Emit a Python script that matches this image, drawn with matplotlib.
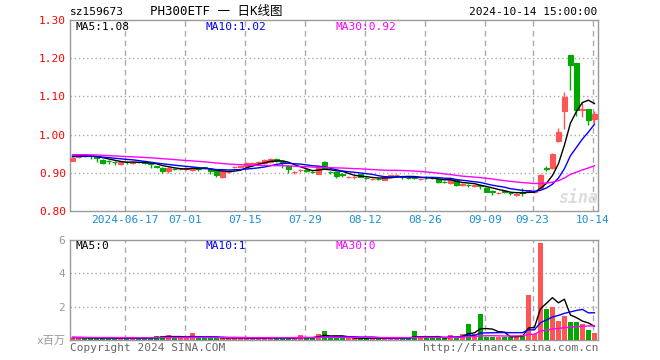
import numpy as np
import pandas as pd
import matplotlib
matplotlib.use('Agg')
import matplotlib.pyplot as plt

# 日K数据 2024-06-03 ~ 2024-10-14 (价格, 成交量单位: 百万)
open_ = [0.932, 0.942, 0.946, 0.945, 0.942, 0.934, 0.931, 0.929, 0.922, 0.928,
         0.926, 0.928, 0.928, 0.925, 0.917, 0.913, 0.904, 0.911, 0.910, 0.910,
         0.907, 0.913, 0.914, 0.911, 0.910, 0.889, 0.902, 0.915, 0.916, 0.917,
         0.921, 0.926, 0.925, 0.928, 0.937, 0.930, 0.917, 0.902, 0.907, 0.907,
         0.903, 0.898, 0.929, 0.903, 0.901, 0.896, 0.889, 0.888, 0.897, 0.887,
         0.883, 0.884, 0.882, 0.889, 0.894, 0.891, 0.887, 0.889, 0.883, 0.889,
         0.887, 0.883, 0.876, 0.872, 0.882, 0.869, 0.869, 0.866, 0.867, 0.861,
         0.852, 0.847, 0.852, 0.847, 0.843, 0.849, 0.850, 0.849, 0.861, 0.913,
         0.912, 0.982, 1.061, 1.208, 1.187, 1.064, 1.067, 1.041]
close = [0.939, 0.947, 0.945, 0.944, 0.938, 0.925, 0.930, 0.928, 0.928, 0.927,
         0.928, 0.927, 0.925, 0.922, 0.916, 0.904, 0.913, 0.910, 0.911, 0.912,
         0.913, 0.909, 0.912, 0.905, 0.894, 0.904, 0.903, 0.916, 0.917, 0.926,
         0.926, 0.927, 0.934, 0.937, 0.931, 0.927, 0.909, 0.903, 0.908, 0.906,
         0.902, 0.917, 0.913, 0.902, 0.892, 0.895, 0.890, 0.889, 0.890, 0.886,
         0.884, 0.883, 0.889, 0.893, 0.895, 0.890, 0.886, 0.887, 0.884, 0.888,
         0.886, 0.875, 0.875, 0.886, 0.867, 0.870, 0.868, 0.867, 0.866, 0.850,
         0.851, 0.848, 0.851, 0.846, 0.844, 0.848, 0.855, 0.853, 0.895, 0.911,
         0.950, 1.008, 1.098, 1.182, 1.064, 1.068, 1.038, 1.055]
high = [0.941, 0.948, 0.948, 0.947, 0.944, 0.936, 0.933, 0.931, 0.930, 0.930,
        0.929, 0.929, 0.929, 0.927, 0.919, 0.915, 0.915, 0.913, 0.913, 0.914,
        0.915, 0.914, 0.916, 0.913, 0.911, 0.906, 0.905, 0.919, 0.919, 0.927,
        0.928, 0.930, 0.936, 0.938, 0.938, 0.932, 0.918, 0.905, 0.910, 0.909,
        0.905, 0.918, 0.930, 0.905, 0.902, 0.899, 0.892, 0.893, 0.898, 0.889,
        0.886, 0.886, 0.890, 0.894, 0.898, 0.892, 0.888, 0.890, 0.886, 0.891,
        0.889, 0.884, 0.878, 0.890, 0.883, 0.872, 0.871, 0.869, 0.869, 0.862,
        0.855, 0.850, 0.853, 0.849, 0.847, 0.859, 0.856, 0.855, 0.896, 0.917,
        0.951, 1.018, 1.112, 1.208, 1.187, 1.083, 1.067, 1.061]
low = [0.930, 0.938, 0.942, 0.935, 0.927, 0.922, 0.922, 0.920, 0.920, 0.922,
       0.924, 0.925, 0.922, 0.913, 0.913, 0.900, 0.900, 0.907, 0.908, 0.908,
       0.905, 0.906, 0.910, 0.896, 0.890, 0.887, 0.900, 0.913, 0.914, 0.915,
       0.919, 0.924, 0.923, 0.926, 0.929, 0.913, 0.900, 0.898, 0.903, 0.902,
       0.899, 0.897, 0.911, 0.898, 0.886, 0.888, 0.887, 0.885, 0.888, 0.883,
       0.881, 0.880, 0.881, 0.888, 0.892, 0.884, 0.883, 0.884, 0.880, 0.885,
       0.883, 0.873, 0.872, 0.871, 0.865, 0.866, 0.864, 0.864, 0.858, 0.849,
       0.843, 0.845, 0.848, 0.843, 0.840, 0.840, 0.849, 0.848, 0.860, 0.905,
       0.910, 0.981, 1.015, 1.118, 1.050, 1.046, 1.025, 1.031]
volume = [0.15, 0.12, 0.12, 0.10, 0.12, 0.15, 0.12, 0.10, 0.12, 0.10,
          0.10, 0.10, 0.12, 0.15, 0.24, 0.24, 0.30, 0.10, 0.15, 0.10,
          0.42, 0.12, 0.10, 0.10, 0.15, 0.15, 0.10, 0.12, 0.10, 0.12,
          0.12, 0.10, 0.12, 0.20, 0.12, 0.10, 0.12, 0.10, 0.30, 0.10,
          0.10, 0.36, 0.54, 0.12, 0.12, 0.10, 0.10, 0.10, 0.12, 0.10,
          0.10, 0.12, 0.12, 0.12, 0.12, 0.10, 0.10, 0.54, 0.12, 0.12,
          0.10, 0.15, 0.12, 0.30, 0.16, 0.36, 0.96, 0.36, 1.55, 0.20,
          0.20, 0.20, 0.20, 0.20, 0.20, 0.30, 2.69, 0.36, 5.80, 1.85,
          2.00, 1.15, 1.43, 1.07, 1.07, 0.95, 0.60, 0.42]

# 窗口之前的收盘价/成交量 (只用于均线起点)
earlier_close = [0.944, 0.947, 0.950, 0.952, 0.951, 0.953, 0.955, 0.954, 0.950, 0.948,
                 0.951, 0.953, 0.949, 0.946, 0.944, 0.945, 0.948, 0.950, 0.946, 0.943,
                 0.947, 0.948, 0.945, 0.946, 0.944, 0.942, 0.944, 0.943, 0.943]
earlier_volume = [0.15, 0.18, 0.20, 0.16, 0.14, 0.15, 0.17, 0.15, 0.13, 0.16,
                  0.18, 0.15, 0.14, 0.16, 0.15, 0.17, 0.16, 0.14, 0.15, 0.16,
                  0.15, 0.14, 0.16, 0.15, 0.17, 0.15, 0.14, 0.16, 0.15]

tick_idx = [9, 19, 29, 39, 49, 59, 69, 77, 87]
tick_labels = ['2024-06-17', '07-01', '07-15', '07-29', '08-12', '08-26', '09-09', '09-23', '10-14']

n = len(close)
x = np.arange(n)
o = np.array(open_)
c = np.array(close)
h = np.array(high)
l = np.array(low)
v = np.array(volume)

cs = pd.Series(earlier_close + close)
vs = pd.Series(earlier_volume + volume)
k = len(earlier_close)
ma = {p: cs.rolling(p, min_periods=1).mean().values[k:] for p in (5, 10, 30)}
vma = {p: vs.rolling(p, min_periods=1).mean().values[k:] for p in (5, 10, 30)}

RED = '#ff5555'
GREEN = '#00a800'
GRAY = '#999999'
MA_COL = {5: 'black', 10: '#0000ff', 30: '#ff00ff'}
mono = ['DejaVu Sans Mono', 'Noto Sans CJK SC']

W, H = 660, 360
fig = plt.figure(figsize=(6.6, 3.6), dpi=100)
ax = fig.add_axes([70 / W, 1 - 211 / H, 528 / W, 191 / H])
axv = fig.add_axes([70 / W, 1 - 340 / H, 528 / W, 100 / H])

up = c >= o
cols = np.where(up, RED, GREEN)

# K线
ax.vlines(x, l, h, colors=cols, linewidth=1, zorder=3)
ax.bar(x, np.abs(c - o), bottom=np.minimum(o, c), width=0.83, color=cols,
       edgecolor=cols, linewidth=0.8, zorder=4)
for p in (5, 10, 30):
    ax.plot(x, ma[p], color=MA_COL[p], linewidth=1, zorder=5)

# 成交量
axv.bar(x, v, width=0.83, color=cols, linewidth=0, zorder=3)
for p in (5, 10, 30):
    axv.plot(x, vma[p], color=MA_COL[p], linewidth=1, zorder=5)

for a in (ax, axv):
    a.set_xlim(-0.42, 87.6)
    for t in tick_idx:
        a.axvline(t - 0.3, color='#aaaaaa', linestyle=(0, (4, 3)), linewidth=1, zorder=1)
    for s in a.spines.values():
        s.set_color(GRAY)
        s.set_linewidth(1)
    a.tick_params(length=0)

ax.set_ylim(0.80, 1.30)
for yv in [0.9, 1.0, 1.1, 1.2]:
    ax.axhline(yv, color='#aaaaaa', linestyle=(0, (1, 2)), linewidth=1, zorder=1)
ax.set_yticks([0.8, 0.9, 1.0, 1.1, 1.2, 1.3])
ax.set_yticklabels(['0.80', '0.90', '1.00', '1.10', '1.20', '1.30'], color='red',
                   fontsize=8, family=mono)
ax.tick_params(axis='y', pad=3)
ax.set_xticks([t - 0.3 for t in tick_idx])
ax.set_xticklabels(tick_labels, color='#1a8fd0', fontsize=8, family=mono)
ax.tick_params(axis='x', pad=3)

axv.set_ylim(0, 6)
for yv in [2, 4]:
    axv.axhline(yv, color='#aaaaaa', linestyle=(0, (1, 2)), linewidth=1, zorder=1)
axv.set_yticks([0, 2, 4, 6])
axv.set_yticklabels(['x百万', '2', '4', '6'], color=GRAY, fontsize=8, family=mono)
axv.set_xticks([])


def ftext(px, py, s, **kw):
    fig.text(px / W, 1 - py / H, s, va='center', family=mono, **kw)


ftext(70, 12, 'sz159673', fontsize=8)
ftext(150, 12, 'PH300ETF 一 日K线图', fontsize=9)
ftext(597, 12, '2024-10-14 15:00:00', fontsize=8, ha='right')

ftext(75, 27, 'MA5:%.2f' % ma[5][-1], fontsize=8, color='black')
ftext(205, 27, 'MA10:1.02', fontsize=8, color='#0000ff')
ftext(335, 27, 'MA30:%.2f' % ma[30][-1], fontsize=8, color='#ff00ff')

ftext(75, 246, 'MA5:0', fontsize=8, color='black')
ftext(205, 246, 'MA10:1', fontsize=8, color='#0000ff')
ftext(335, 246, 'MA30:0', fontsize=8, color='#ff00ff')

ftext(70, 348, 'Copyright 2024 SINA.COM', fontsize=8, color='#666666')
ftext(598, 348, 'http://finance.sina.com.cn', fontsize=8, color='#666666', ha='right')
ftext(598, 198, 'sina', fontsize=12, color='#dddddd', ha='right', style='italic',
      weight='bold')

fig.savefig('out.png', dpi=100)
